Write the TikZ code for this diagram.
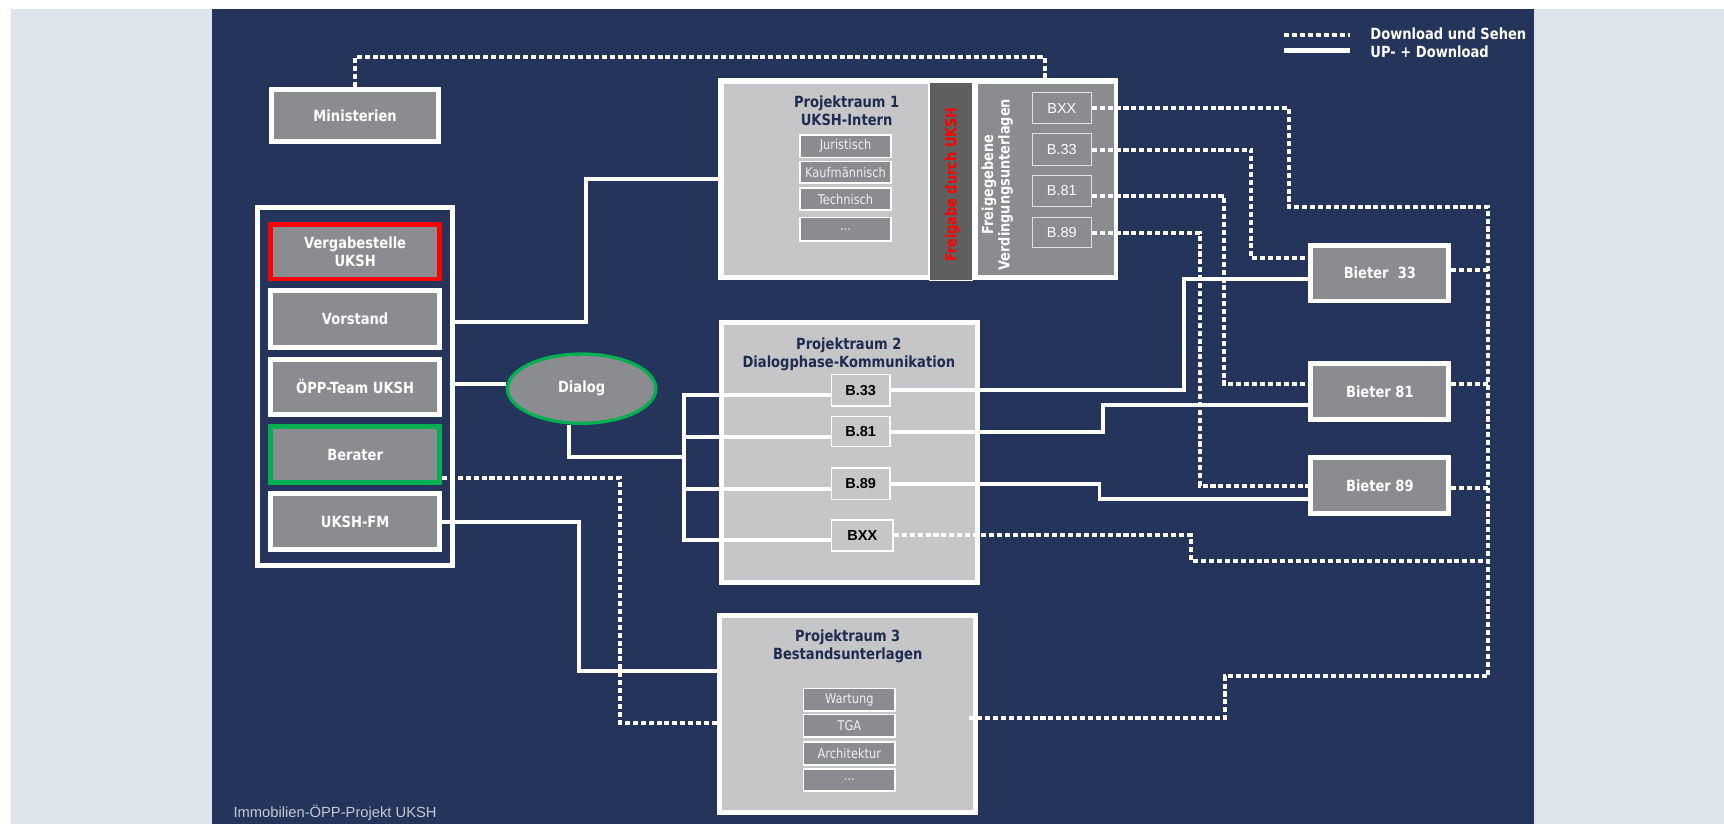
\documentclass[tikz,border=0pt]{standalone}
\usepackage{fontspec}
\usetikzlibrary{shapes.geometric,calc}
\newfontfamily\tah[FakeStretch=0.85]{DejaVu Sans}
\newfontfamily\ari{Liberation Sans}
\definecolor{navy}{HTML}{24345A}
\definecolor{pale}{HTML}{DEE4EC}
\definecolor{boxg}{HTML}{8B8C90}
\definecolor{lgray}{HTML}{C6C6C8}
\definecolor{dgray}{HTML}{5F5F5F}
\definecolor{ttl}{HTML}{1F2B4F}
\definecolor{grn}{HTML}{00B050}
\definecolor{subtxt}{HTML}{EFEFEF}
\definecolor{capt}{HTML}{C4C9D2}
\newcommand\rb[8]{\node[#7, line width={#6*0.5pt}, minimum width={(#4-#2-#6)*0.5pt}, minimum height={(#5-#3-#6)*0.5pt}] (#1) at ({(#2+#4)/2},{(#3+#5)/2}) {#8};}
\tikzset{
  gbox/.style={rectangle, inner sep=0pt, draw=white, fill=boxg, text=white, font=\tah\bfseries\fontsize{7}{8.3}\selectfont, align=center},
  subbox/.style={rectangle, inner sep=0pt, draw=white, fill=boxg, text=subtxt, font=\tah\fontsize{6.1}{7}\selectfont},
  rpbox/.style={rectangle, inner sep=0pt, draw=black!12, fill=boxg, text=white, font=\ari\fontsize{6.6}{7.5}\selectfont},
  pbbox/.style={rectangle, inner sep=0pt, draw=white, fill=lgray, text=black, font=\ari\bfseries\fontsize{6.6}{7.5}\selectfont},
  room/.style={rectangle, inner sep=0pt, draw=white, fill=lgray},
  plain/.style={rectangle, inner sep=0pt},
  roomtitle/.style={inner sep=0pt, text=ttl, font=\tah\bfseries\fontsize{7}{8}\selectfont, align=center},
  sol/.style={draw=white, line width=1.8pt},
  dot/.style={draw=white, line width=1.8pt, dash pattern=on 2.3pt off 1.3pt},
}
\begin{document}
\begin{tikzpicture}[x=0.5pt,y=-0.5pt]
\useasboundingbox (0,0) rectangle (1568,749);
\fill[white] (0,0) rectangle (1568,749);
\fill[pale] (10,8) rectangle (1568,749);
\fill[navy] (193,8.5) rectangle (1395,749);

% legend
\coordinate (la) at (1168,32); \coordinate (lb) at (1228,32);
\coordinate (lc) at (1168,46); \coordinate (ld) at (1228,46);
\draw[dot] (la) -- (lb);
\draw[sol, line width=2.1pt] (lc) -- (ld);
\node[anchor=west, inner sep=0pt, text=white, font=\tah\bfseries\fontsize{7}{8}\selectfont] (lt1) at (1246,31) {Download und Sehen};
\node[anchor=west, inner sep=0pt, text=white, font=\tah\bfseries\fontsize{7}{8}\selectfont] (lt2) at (1246,47) {UP- + Download};

% caption
\node[anchor=west, inner sep=0pt, text=capt, font=\ari\fontsize{6.7}{8}\selectfont] (cap) at (212,739.5) {Immobilien-ÖPP-Projekt UKSH};

% left side
\rb{min}{245}{79}{401}{131}{4.5}{gbox}{Ministerien}
\rb{grp}{232}{186.5}{414}{517}{4.5}{plain, draw=white}{}
\rb{verg}{244}{202}{402}{256}{4.5}{gbox, draw=red}{Vergabestelle\\UKSH}
\rb{vor}{244}{262}{402}{318}{4.5}{gbox}{Vorstand}
\rb{oepp}{244}{324.5}{402}{379}{4.5}{gbox}{ÖPP-Team UKSH}
\rb{ber}{244}{386}{402}{441}{4.5}{gbox, draw=grn}{Berater}
\rb{fm}{244}{447}{402}{502}{4.5}{gbox}{UKSH-FM}
\node[ellipse, inner sep=0pt, draw=grn, line width=1.5pt, fill=boxg, minimum width={(138-3)*0.5pt}, minimum height={(66-3)*0.5pt}, text=white, font=\tah\bfseries\fontsize{7}{8.3}\selectfont] (dia) at (529,353.5) {Dialog};

% Projektraum 1
\rb{pr1}{653}{71}{1017}{255}{0}{plain, fill=white}{}
\rb{pr1in}{658.5}{76}{844}{250}{0}{plain, fill=lgray}{}
\rb{frg}{845}{74}{885}{256}{1.2}{plain, draw=white, fill=dgray}{}
\rb{rp}{889.5}{76}{1013}{250}{0}{plain, fill=boxg}{}
\node[rotate=90, inner sep=0pt, text=red, font=\tah\bfseries\fontsize{6.9}{8}\selectfont] (frgt) at (866,168) {Freigabe durch UKSH};
\node[rotate=90, inner sep=0pt, text=white, align=center, font=\tah\bfseries\fontsize{6.9}{7.6}\selectfont] (rpt) at (907,168) {Freigegebene\\Verdingungsunterlagen};
\node[roomtitle] (pr1t) at (770,100.5) {Projektraum 1\\UKSH-Intern};
\rb{jur}{727}{122}{811}{144}{1.5}{subbox}{Juristisch}
\rb{kfm}{727}{146}{811}{167}{1.5}{subbox}{Kaufmännisch}
\rb{tec}{727}{170}{811}{192}{1.5}{subbox}{Technisch}
\rb{dot1}{727}{197}{811}{220}{1.5}{subbox}{...}
\rb{rbxx}{938.5}{84}{993}{113}{1}{rpbox}{BXX}
\rb{rb33}{938.5}{121}{993}{151}{1}{rpbox}{B.33}
\rb{rb81}{938.5}{159}{993}{188}{1}{rpbox}{B.81}
\rb{rb89}{938.5}{197}{993}{226}{1}{rpbox}{B.89}

% Projektraum 2
\rb{pr2}{654}{291}{891}{532}{4.5}{room}{}
\node[roomtitle] (pr2t) at (772,322) {Projektraum 2\\Dialogphase-Kommunikation};
\rb{b33}{755.5}{340}{810}{370}{1.5}{pbbox}{B.33}
\rb{b81}{755.5}{378}{810}{407}{1.5}{pbbox}{B.81}
\rb{b89}{755.5}{425}{810}{455}{1.5}{pbbox}{B.89}
\rb{bxx}{755.5}{472}{813}{502}{1.5}{pbbox}{BXX}

% Projektraum 3
\rb{pr3}{652}{557.5}{889.5}{741}{4.5}{room}{}
\node[roomtitle] (pr3t) at (771,588) {Projektraum 3\\Bestandsunterlagen};
\rb{war}{730}{625.5}{815}{647.5}{1.5}{subbox}{Wartung}
\rb{tga}{730}{649}{815}{671}{1.5}{subbox}{TGA}
\rb{arc}{730}{674}{815}{696.5}{1.5}{subbox}{Architektur}
\rb{dot3}{730}{698.5}{815}{720}{1.5}{subbox}{...}

% Bieter
\rb{bi33}{1190}{221}{1320}{276}{4.5}{gbox}{Bieter~~33}
\rb{bi81}{1190}{328}{1320}{384}{4.5}{gbox}{Bieter 81}
\rb{bi89}{1190}{414}{1320}{469}{4.5}{gbox}{Bieter 89}

% solid connectors
\draw[sol] (grp.east |- 0,293) -| (533,200) |- (pr1.west);
\draw[sol] (grp.east |- 0,349) -- (dia.west |- 0,349);
\draw[sol] (dia.south -| 517.5,0) |- (622,415.5);
\draw[sol] (b33.west |- 0,359) -| (622,491) -- (bxx.west |- 0,491);
\draw[sol] (622,397.5) -- (b81.west |- 0,397.5);
\draw[sol] (622,445) -- (b89.west |- 0,445);
\draw[sol] (fm.east |- 0,475) -| (527,610) -- (pr3.west |- 0,610);
\draw[sol] (b33.east) -| (1077,254) -- (bi33.west |- 0,254);
\draw[sol] (b81.east) -| (1003,368) -- (bi81.west |- 0,368);
\draw[sol] (b89.east) -| (1000,454) -- (bi89.west |- 0,454);

% dotted connectors
\draw[dot] (min.north) |- (950,51.6) -- (pr1.north -| 950,0);
\draw[dot] (rbxx.east) -| (1172,188) -| (1353.5,615) -| (1114,653) -- ($(pr3.east |- 0,653)+(-8,0)$);
\draw[dot] (rb33.east) -| (1138,235) -- (bi33.west |- 0,235);
\draw[dot] (rb81.east |- 0,178) -| (1113,349) -- (bi81.west |- 0,349);
\draw[dot] (rb89.east) -| (1091,442) -- (bi89.west |- 0,442);
\draw[dot] (bi33.east |- 0,245.5) -- (1353.5,245.5);
\draw[dot] (bi81.east |- 0,349) -- (1353.5,349);
\draw[dot] (bi89.east |- 0,444) -- (1353.5,444);
\draw[dot] (bxx.east) -| (1083,510) -- (1353.5,510);
\draw[dot] (ber.east |- 0,435) -| (564,657.5) -- (pr3.west |- 0,657.5);
\end{tikzpicture}
\end{document}
